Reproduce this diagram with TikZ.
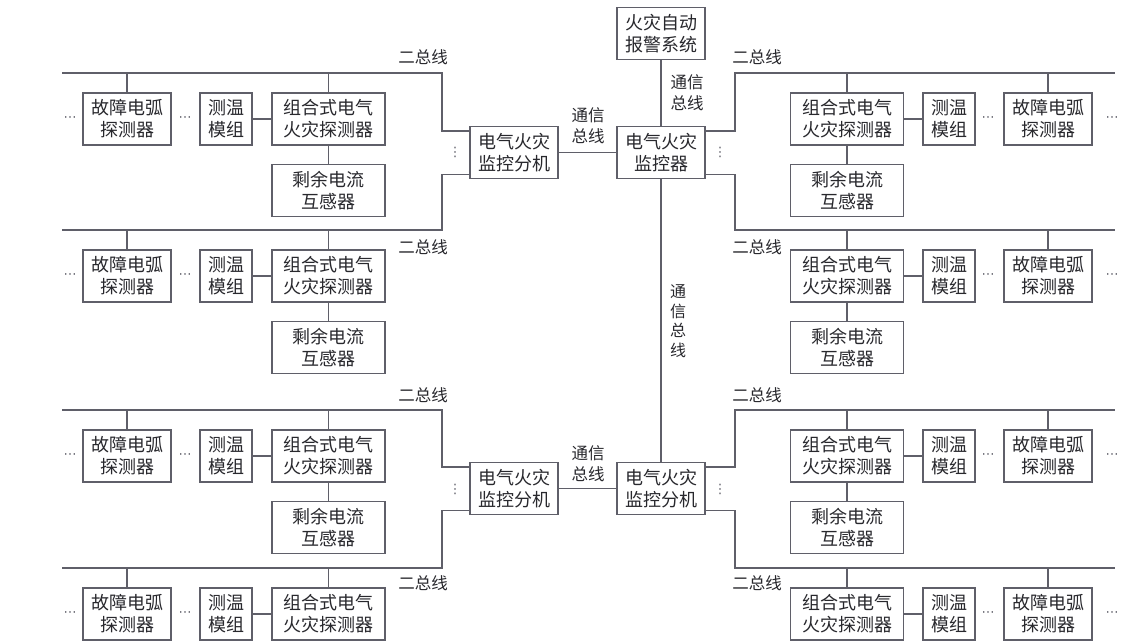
\documentclass[tikz,border=0pt]{standalone}
\usepackage{fontspec}
\newfontfamily\cjk{Noto Sans CJK SC}
\newfontfamily\sym{DejaVu Sans}
\usepackage{tikz}
\usetikzlibrary{positioning, calc}
\definecolor{wire}{RGB}{95,95,105}
\definecolor{ink}{RGB}{40,40,45}

\begin{document}
\begin{tikzpicture}[x=1pt, y=-1pt,
            unit/.style={rectangle, draw=wire, fill=white, line width=1.1pt, minimum height=52pt, inner sep=0pt, align=center, text=ink, font=\cjk\fontsize{18}{22}\selectfont},
            bus/.style={draw=wire, line width=1.1pt},
            lbl/.style={inner sep=0pt, align=center, text=ink, font=\cjk\fontsize{16.5}{21}\selectfont},
            gap/.style={inner sep=0pt, text=wire, font=\sym\fontsize{13}{13}\selectfont}
        ]
            \useasboundingbox (0,0) rectangle (1140,642);

            % central units
            \node[unit, minimum width=88pt] (sys) at (661,33.5) {火灾自动\\报警系统};
            \node[unit, minimum width=88pt] (mon) at (661,152.5) {电气火灾\\监控器};
            \node[unit, minimum width=88pt] (subA) at (514,152.5) {电气火灾\\监控分机};
            \node[unit, minimum width=88pt] (subB) at (514,488.5) {电气火灾\\监控分机};
            \node[unit, minimum width=88pt] (subC) at (661,488.5) {电气火灾\\监控分机};

            \draw[bus] (sys) -- (mon);
            \draw[bus] (subA) -- (mon);
            \draw[bus] (mon) -- (subC);
            \draw[bus] (subB) -- (subC);

            \node[lbl] at (687,93) {通信\\总线};
            \node[lbl] at (588,126) {通信\\总线};
            \node[lbl] at (588,464) {通信\\总线};
            \node[lbl, font=\cjk\fontsize{16}{19.5}\selectfont] at (678,321) {通\\信\\总\\线};

            \node[gap] at (455,152) {⋮};
            \node[gap] at (455,489) {⋮};
            \node[gap] at (720,152) {⋮};
            \node[gap] at (720,489) {⋮};

            % left buses
            \foreach \n/\b/\src/\anc/\s/\t in {a/73/subA/north west/-5/-16, b/230/subA/south west/5/17, c/410/subB/north west/-5/-15, d/568/subB/south west/5/15} {
                \coordinate (Lr\n) at (442,\b);
                \coordinate (Ll\n) at (62,\b);
                \draw[bus] ([yshift=\s pt]\src.\anc) -| (Lr\n) -- (Ll\n);
                \node[lbl] at (423,\b+\t) {二总线};
                \node[unit, minimum width=88pt] (arcL\n) at (127,\b+46) {故障电弧\\探测器};
                \node[unit, minimum width=52pt] (tmpL\n) at (226,\b+46) {测温\\模组};
                \node[unit, minimum width=113pt] (comL\n) at (328.5,\b+46) {组合式电气\\火灾探测器};
                \node[gap] at (70,\b+46) {⋯};
                \node[gap] at (185,\b+46) {⋯};
                \draw[bus] (arcL\n) -- (arcL\n |- Ll\n);
                \draw[bus] (comL\n) -- (comL\n |- Ll\n);
                \draw[bus] (tmpL\n) -- (comL\n);
                \ifnum\b<500
                    \node[unit, minimum width=113pt] (resL\n) at (328.5,\b+117.5) {剩余电流\\互感器};
                    \draw[bus] (comL\n) -- (resL\n);
                \fi
            }

            % right buses
            \foreach \n/\b/\src/\anc/\s/\t in {a/73/mon/north east/-5/-16, b/230/mon/south east/5/17, c/410/subC/north east/-5/-15, d/568/subC/south east/5/15} {
                \coordinate (Rl\n) at (735,\b);
                \coordinate (Rr\n) at (1115,\b);
                \draw[bus] ([yshift=\s pt]\src.\anc) -| (Rl\n) -- (Rr\n);
                \node[lbl] at (757,\b+\t) {二总线};
                \node[unit, minimum width=113pt] (comR\n) at (847,\b+46) {组合式电气\\火灾探测器};
                \node[unit, minimum width=52pt] (tmpR\n) at (949,\b+46) {测温\\模组};
                \node[unit, minimum width=88pt] (arcR\n) at (1048,\b+46) {故障电弧\\探测器};
                \node[gap] at (988,\b+46) {⋯};
                \node[gap] at (1112,\b+46) {⋯};
                \draw[bus] (arcR\n) -- (arcR\n |- Rr\n);
                \draw[bus] (comR\n) -- (comR\n |- Rr\n);
                \draw[bus] (comR\n) -- (tmpR\n);
                \ifnum\b<500
                    \node[unit, minimum width=113pt] (resR\n) at (847,\b+117.5) {剩余电流\\互感器};
                    \draw[bus] (comR\n) -- (resR\n);
                \fi
            }
        \end{tikzpicture}
\end{document}
